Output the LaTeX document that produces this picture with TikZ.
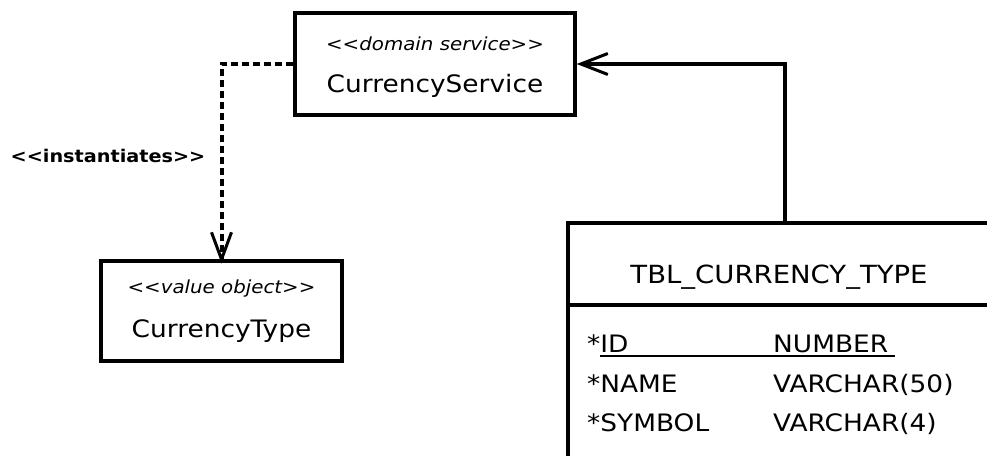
\documentclass[tikz,border=0pt]{standalone}
\usepackage{fontspec}
\setmainfont{DejaVu Sans}[FakeStretch=1.1]
\usetikzlibrary{arrows.meta}
\begin{document}
\begin{tikzpicture}[x=1pt,y=-1pt,
  box/.style={draw, line width=3.4pt, inner sep=0pt, anchor=center},
  stereo/.style={font=\fontsize{18}{20}\selectfont\itshape, anchor=base, inner sep=0pt},
  cname/.style={font=\fontsize{24}{28}\selectfont, anchor=base, inner sep=0pt},
  rowtxt/.style={font=\fontsize{24}{28}\selectfont, anchor=base west, inner sep=0pt},
  label/.style={font=\fontsize{17.5}{20}\selectfont\bfseries, anchor=base, inner sep=0pt},
  conn/.style={line width=3.2pt},
  tip/.style={-{Straight Barb[length=27pt,width=21pt,line width=3pt]}},
  dashconn/.style={line width=4pt, dash pattern=on 7pt off 4pt}
]
\useasboundingbox (0,0) rectangle (987,455);
\clip (0,0) rectangle (987,455);
% boxes
\node[box, minimum width=280pt, minimum height=102pt] (cs) at (435,64) {};
\node[box, minimum width=241pt, minimum height=100pt] (ct) at (221.5,311) {};
\node[box, minimum width=434pt, minimum height=247pt] (tbl) at (785,346.5) {};
\draw[line width=3.4pt] (tbl.west |- 0,305) coordinate (divl) -- (tbl.east |- 0,305) coordinate (divr);
% texts
\node[stereo] (csst) at (435,50) {<{}<domain service>{}>};
\node[cname] (csnm) at (435,92) {CurrencyService};
\node[stereo] (ctst) at (221.5,293) {<{}<value object>{}>};
\node[cname] (ctnm) at (221.5,337) {CurrencyType};
\node[label] (inst) at (108,162) {<{}<instantiates>{}>};
\node[font=\fontsize{25}{28}\selectfont, anchor=base, inner sep=0pt] (ttl) at (779,283) {TBL\_CURRENCY\_TYPE};
\node[rowtxt] (r1a) at (587,352) {*ID};
\node[rowtxt] (r1b) at (773,352) {NUMBER};
\node[rowtxt] (r2a) at (587,392) {*NAME};
\node[rowtxt] (r2b) at (773,392) {VARCHAR(50)};
\node[rowtxt] (r3a) at (587,431) {*SYMBOL};
\node[rowtxt] (r3b) at (773,431) {VARCHAR(4)};
\coordinate (ul1) at (600,356);
\coordinate (ul2) at (895,356);
\draw[line width=2pt] (ul1) -- (ul2);
% connectors
\draw[conn, tip] (tbl.north) |- (cs.east);
\draw[dashconn] (cs.west) -| (ct.north);
\draw[line width=3pt] (ct.north) ++(-10,-27) -- (ct.north) -- ++(10,-27);
\end{tikzpicture}
\end{document}
